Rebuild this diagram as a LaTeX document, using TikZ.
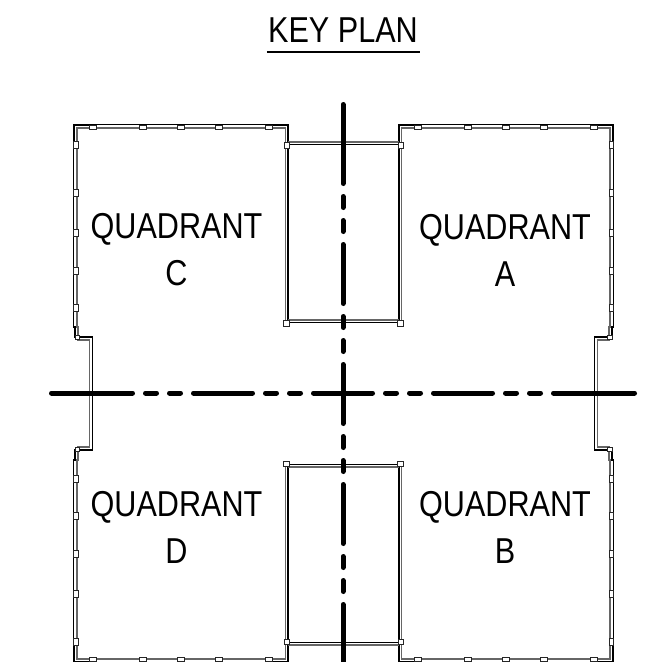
\documentclass[tikz,border=0pt]{standalone}
\usepackage{fontspec}
\setmainfont[FakeStretch=0.85]{Liberation Sans}
\tikzset{
  wallouter/.style={line width=1.3pt, black},
  wallinner/.style={line width=1.3pt, black!60},
  winbox/.style={draw=black!85, fill=white, line width=0.8pt},
  axisline/.style={line width=5pt, line cap=round},
  axisdash/.style={axisline, dash pattern=on 11pt off 13pt on 11pt off 13pt on 59pt off 13pt},
  quadtext/.style={align=center, inner sep=0pt, font=\fontsize{36}{47}\selectfont}
}
\newcommand{\quadwalls}{
  \draw[wallouter] (288,323) -- (288,125) -- (272,125) -- (272,124.5) -- (90,124.5) -- (90,125) -- (74,125) -- (74,142) -- (73.5,142) -- (73.5,327) -- (75,327) -- (75,337) -- (92.7,337) -- (92.7,393.75);
  \draw[wallinner] (285.3,323) -- (285.3,128) -- (77,128) -- (77,327) -- (78,327) -- (78,340) -- (89.5,340) -- (89.5,393.75);
  \draw[wallinner] (288,142) -- (343.5,142);
  \draw[wallouter] (288,144.5) -- (343.5,144.5);
  \draw[wallinner] (288,320) -- (343.5,320);
  \draw[wallouter] (288,322.7) -- (343.5,322.7);
  \foreach \x in {93,143,181,219,269}
    \draw[winbox] ({\x-3.5},125.2) rectangle ({\x+3.5},129.6);
  \foreach \y in {145,193,233,271,308}
    \draw[winbox] (73.7,{\y-3.5}) rectangle (78.1,{\y+3.5});
  \draw[winbox] (284,142.5) rectangle (289,148);
  \draw[winbox] (283.7,320.5) rectangle (289.3,326);
  \draw[winbox] (75,335.5) rectangle (79.5,339.5);
}
\begin{document}
\begin{tikzpicture}[x=1pt, y=-1pt]
  \useasboundingbox (0,0) rectangle (647,662);

  \quadwalls
  \begin{scope}[shift={(687,0)}, xscale=-1]
    \quadwalls
  \end{scope}
  \begin{scope}[shift={(0,787)}, yscale=-1]
    \quadwalls
  \end{scope}
  \begin{scope}[shift={(687,787)}, xscale=-1, yscale=-1]
    \quadwalls
  \end{scope}

  \draw[axisline] (343,104.5) -- (343,183.5);
  \draw[axisdash] (343,196.5) -- (343,666);
  \draw[axisline] (51.5,393) -- (132.5,393);
  \draw[axisdash] (145.5,393) -- (540.5,393);
  \draw[axisline] (553.5,393) -- (634.5,393);

  \node[quadtext] (keyplan) at (343,30) {KEY PLAN};
  \draw[line width=2pt] ([xshift=-1pt,yshift=-9pt]keyplan.south west) -- ([xshift=2pt,yshift=-9pt]keyplan.south east);

  \node[quadtext] (quadc) at (176.5,250) {QUADRANT\\C};
  \node[quadtext] (quada) at (505,250) {QUADRANT\\A};
  \node[quadtext] (quadd) at (176.5,527) {QUADRANT\\D};
  \node[quadtext] (quadb) at (505,527) {QUADRANT\\B};
\end{tikzpicture}
\end{document}
